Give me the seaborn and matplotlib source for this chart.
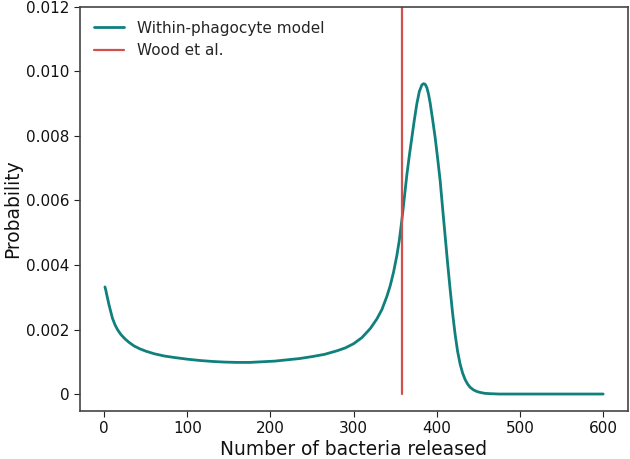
import numpy as np
import pandas as pd
import matplotlib
matplotlib.use("Agg")
import matplotlib.pyplot as plt
import seaborn as sns

# values
bacteria = [1, 2, 4, 6, 8, 10, 13, 16, 20, 25, 30, 36, 43, 50, 60, 72, 85, 100,
            115, 130, 145, 160, 175, 190, 205, 220, 235, 250, 265, 280, 290,
            300, 310, 320, 328, 334, 340, 344, 348, 352, 355, 358, 361, 364,
            367, 370, 373, 376, 379, 382, 384, 386, 388, 390, 392, 395, 398,
            401, 404, 407, 410, 413, 416, 419, 422, 425, 428, 431, 434, 437,
            440, 444, 448, 452, 458, 465, 475, 500, 550, 600]
probability = [0.00332, 0.00322, 0.00298, 0.00275, 0.00255, 0.00235, 0.00215,
               0.00200, 0.00185, 0.00171, 0.00160, 0.00149, 0.00140, 0.00133,
               0.00125, 0.00118, 0.00113, 0.00108, 0.00104, 0.00101, 0.00099,
               0.00098, 0.00098, 0.00100, 0.00102, 0.00106, 0.00110, 0.00116,
               0.00123, 0.00134, 0.00143, 0.00156, 0.00175, 0.00203, 0.00233,
               0.00262, 0.00303, 0.00336, 0.00378, 0.00430, 0.00478, 0.00540,
               0.00610, 0.00680, 0.00740, 0.00795, 0.00850, 0.00900, 0.00938,
               0.00958, 0.00962, 0.00960, 0.00950, 0.00930, 0.00902, 0.00850,
               0.00795, 0.00730, 0.00662, 0.00575, 0.00490, 0.00405, 0.00325,
               0.00250, 0.00185, 0.00132, 0.00093, 0.00065, 0.00045, 0.00031,
               0.00021, 0.00013, 0.00008, 0.00005, 0.00002, 0.00001, 0.0, 0.0,
               0.0, 0.0]
wood_x = [358, 358]
wood_y = [0.0, 0.012]

df = pd.DataFrame({"bacteria": bacteria, "probability": probability})

sns.set_style("ticks")
plt.rcParams['font.family'] = ['DejaVu Sans']

fig = plt.figure(figsize=(6.3, 4.59), dpi=100)
ax = fig.add_axes([0.127, 0.105, 0.87, 0.88])

sns.lineplot(data=df, x="bacteria", y="probability", color="#10807d",
             linewidth=2, label="Within-phagocyte model", ax=ax)
sns.lineplot(x=wood_x, y=wood_y, color="#d0504c", linewidth=1.6,
             estimator=None, sort=False, label="Wood et al.", ax=ax)

ax.set_xlim(-29, 630)
ax.set_ylim(-0.00052, 0.012)
ax.set_xticks([0, 100, 200, 300, 400, 500, 600])
ax.set_yticks([0, 0.002, 0.004, 0.006, 0.008, 0.010, 0.012])
ax.set_yticklabels(["0", "0.002", "0.004", "0.006", "0.008", "0.010", "0.012"])
ax.tick_params(labelsize=11, color="#222222", labelcolor="#111111", length=4)
for s in ax.spines.values():
    s.set_color("#444444")
    s.set_linewidth(1.2)

ax.set_xlabel("Number of bacteria released", fontsize=13.4, color="#111111",
              labelpad=3)
ax.set_ylabel("Probability", fontsize=13.4, color="#111111", labelpad=3)
ax.legend(loc="upper left", frameon=False, fontsize=11, handlelength=2.0)

fig.savefig("out.png", dpi=100)
